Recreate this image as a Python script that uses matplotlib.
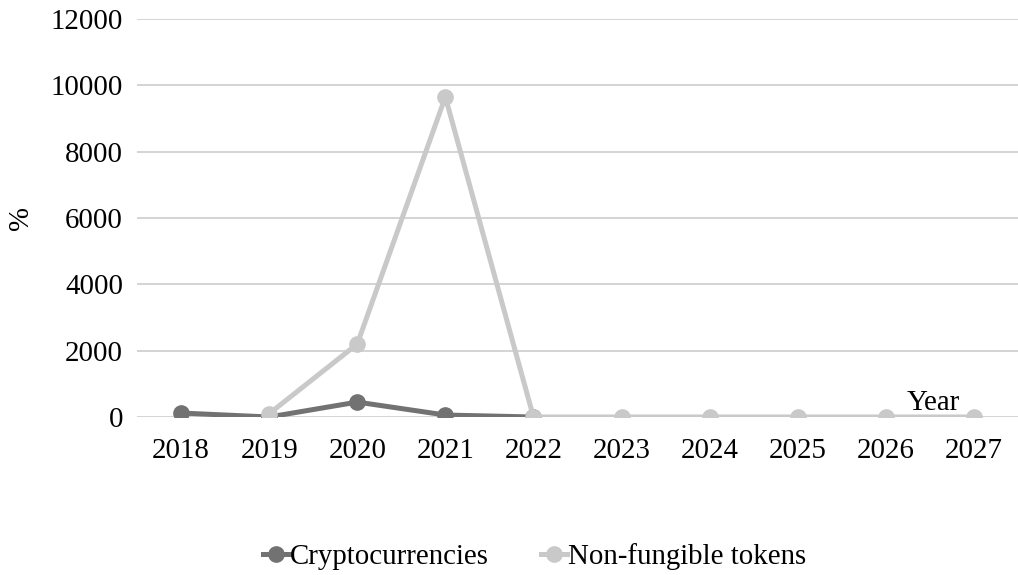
import matplotlib.pyplot as plt

plt.rcParams['font.family'] = ['Liberation Serif', 'DejaVu Serif']

years = ['2018', '2019', '2020', '2021', '2022', '2023', '2024', '2025', '2026', '2027']
crypto = [120, 0, 450, 60, 0]            # 2018-2022
nft = [100, 2200, 9650, 0, 0, 0, 0, 0, 0]  # 2019-2027

crypto_color = '#727272'
nft_color = '#c9c9c9'
fs = 20.8

fig = plt.figure(figsize=(10.18, 5.75), dpi=100)
ax = fig.add_axes([137 / 1018, 1 - 417 / 575, (1018 - 137) / 1018, 398 / 575])

x = list(range(len(years)))
ax.plot(x[:len(crypto)], crypto, color=crypto_color, linewidth=3.6, marker='o',
        markersize=11, label='Cryptocurrencies', zorder=3)
ax.plot(x[1:], nft, color=nft_color, linewidth=3.6, marker='o',
        markersize=11, label='Non-fungible tokens', zorder=4)

ax.set_xlim(-0.5, len(years) - 0.5)
ax.set_ylim(0, 12000)
ax.set_yticks(range(0, 12001, 2000))
ax.set_xticks(x)
ax.set_xticklabels(years)
ax.tick_params(axis='both', length=0, labelsize=fs)
ax.tick_params(axis='x', pad=15)
ax.tick_params(axis='y', pad=10)

ax.grid(axis='y', color='#d4d4d4', linewidth=1.4)
ax.set_axisbelow(True)
for s in ax.spines.values():
    s.set_visible(False)

ax.set_ylabel('%', fontsize=fs, labelpad=12)
ax.text(0.9035, 0.002, 'Year', transform=ax.transAxes, fontsize=fs,
        ha='center', va='bottom', zorder=5)

fig.legend(loc='center', bbox_to_anchor=(0.525, 0.032), ncol=2, frameon=False,
           fontsize=fs, handlelength=0.9, handletextpad=0.05, columnspacing=1.8)

fig.savefig('out.png', dpi=100)
